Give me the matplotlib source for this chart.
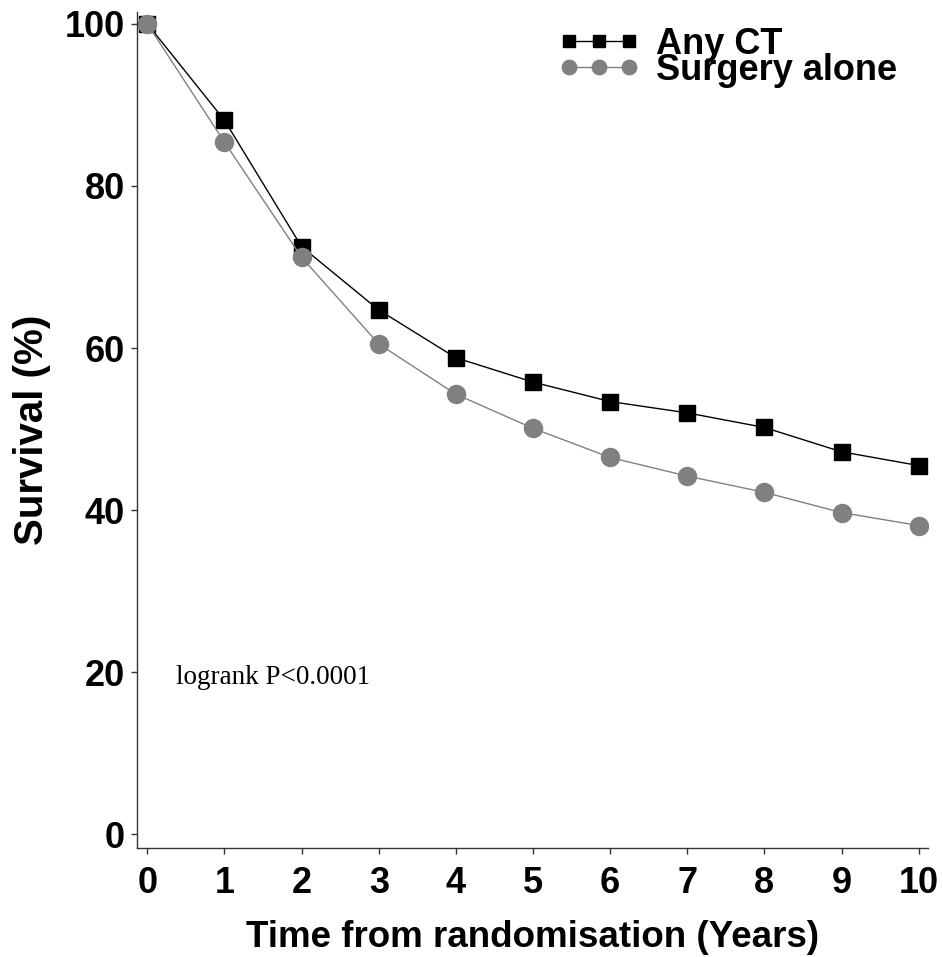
import matplotlib.pyplot as plt
import numpy as np

plt.rcParams["font.family"] = ["Liberation Sans", "DejaVu Sans"]
plt.rcParams["font.weight"] = "bold"
plt.rcParams["xtick.direction"] = "out"
plt.rcParams["ytick.direction"] = "out"

# survival estimates
years = [0, 1, 2, 3, 4, 5, 6, 7, 8, 9, 10]
any_ct = [100, 88.1, 72.5, 64.7, 58.8, 55.8, 53.4, 52.0, 50.2, 47.2, 45.5]
surgery_alone = [100, 85.4, 71.2, 60.5, 54.3, 50.1, 46.5, 44.2, 42.2, 39.7, 38.1]
x_ticks = list(range(0, 11))
y_ticks = [0, 20, 40, 60, 80, 100]

fig = plt.figure(figsize=(9.43, 9.57), dpi=100)
ax = fig.add_axes([0.1456, 0.1142, 0.8384, 0.8736])

ax.plot(
    years,
    any_ct,
    color="black",
    linewidth=1.0,
    marker="s",
    markersize=11.5,
    label="Any CT",
)
ax.plot(
    years,
    surgery_alone,
    color="#808080",
    linewidth=1.0,
    marker="o",
    markersize=13,
    label="Surgery alone",
)

ax.set_xlim(-0.13, 10.12)
ax.set_ylim(-1.65, 101.5)
ax.set_xticks(x_ticks)
ax.set_yticks(y_ticks)
ax.tick_params(axis="both", labelsize=26, length=4.5, width=1.0, color="#333333")
ax.tick_params(axis="y", pad=4.5)
ax.tick_params(axis="x", pad=9)

for side in ["top", "right"]:
    ax.spines[side].set_visible(False)
for side in ["left", "bottom"]:
    ax.spines[side].set_color("#333333")
    ax.spines[side].set_linewidth(1.0)

ax.set_xlabel("Time from randomisation (Years)", fontsize=26.5, fontweight="bold", labelpad=13)
ax.set_ylabel("Survival (%)", fontsize=29, fontweight="bold", labelpad=10)

ax.text(
    0.375,
    18.55,
    "logrank P<0.0001",
    fontsize=19.5,
    fontweight="normal",
    family=["Liberation Serif", "DejaVu Serif"],
    va="baseline",
    ha="left",
)

ax.legend(
    loc="upper right",
    frameon=False,
    fontsize=26,
    numpoints=3,
    markerscale=0.8,
    labelspacing=-0.25,
    handlelength=2.25,
    handletextpad=0.45,
    borderaxespad=0.0,
    bbox_to_anchor=(0.979, 0.999),
)

plt.savefig("out.png", dpi=100)
